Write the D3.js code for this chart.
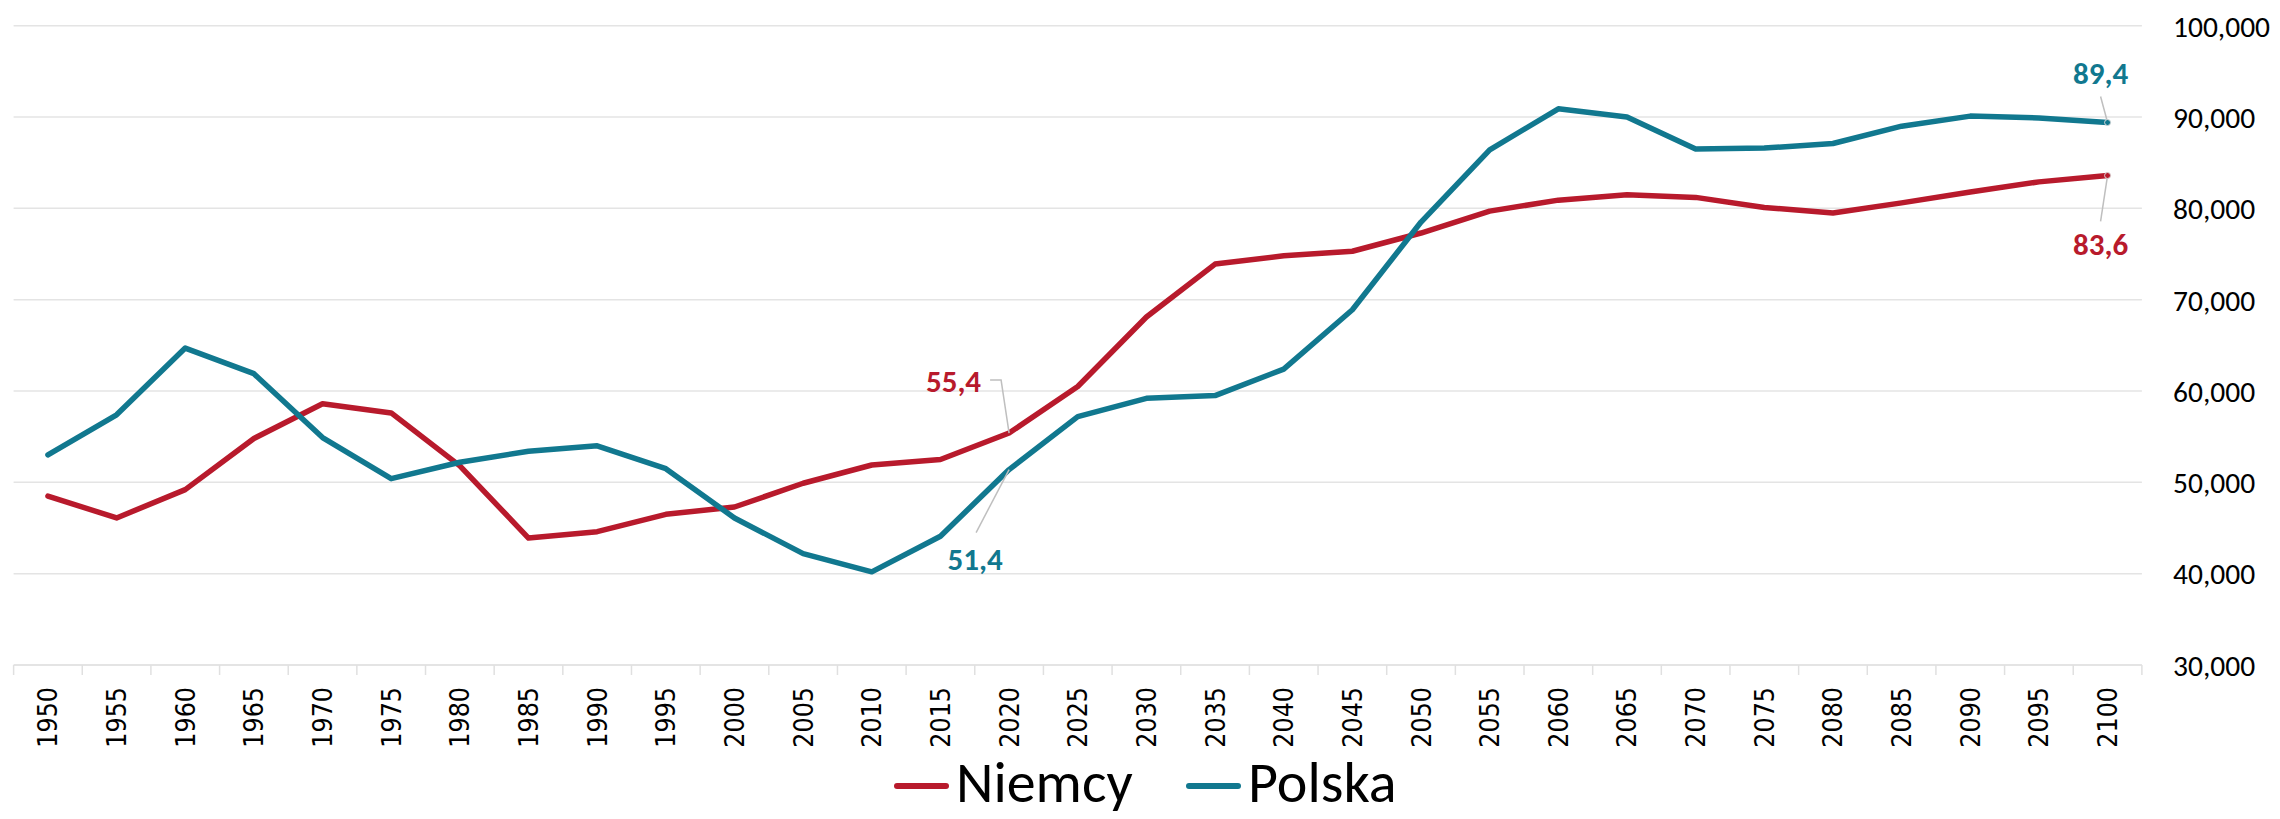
<!DOCTYPE html>
<html>
<head>
<meta charset="utf-8">
<script src="https://cdn.jsdelivr.net/npm/d3@7"></script>
<style>
  html, body { margin: 0; padding: 0; background: #fff; }
  svg { display: block; }
  .calibri { font-family: Carlito, Lato, sans-serif; }
</style>
</head>
<body>
<div id="chart"></div>
<script>
// data
const years = [1950, 1955, 1960, 1965, 1970, 1975, 1980, 1985, 1990, 1995, 2000,
  2005, 2010, 2015, 2020, 2025, 2030, 2035, 2040, 2045, 2050, 2055, 2060, 2065,
  2070, 2075, 2080, 2085, 2090, 2095, 2100];
const niemcy = [48500, 46100, 49200, 54800, 58600, 57600, 51800, 43900, 44600, 46500, 47300,
  49900, 51900, 52500, 55400, 60500, 68100, 73900, 74800, 75300, 77300, 79700, 80900, 81500,
  81200, 80100, 79500, 80600, 81800, 82900, 83600];
const polska = [53000, 57400, 64700, 61900, 54900, 50400, 52200, 53400, 54000, 51500, 46100,
  42200, 40200, 44100, 51400, 57200, 59200, 59500, 62400, 68900, 78500, 86400, 90900, 90000,
  86500, 86600, 87100, 89000, 90100, 89900, 89400];
const yTicks = [30000, 40000, 50000, 60000, 70000, 80000, 90000, 100000];
const seriesNames = ['Niemcy', 'Polska'];
const labelled = [
  { series: 'Niemcy', year: 2020 },
  { series: 'Polska', year: 2020 },
  { series: 'Polska', year: 2100 },
  { series: 'Niemcy', year: 2100 },
];

const width = 2280;
const height = 819;
const plot = { left: 13.6, right: 2141.9, top: 25.7, bottom: 665 };
const colors = { Niemcy: '#b81a2c', Polska: '#11788f' };
const values = { Niemcy: niemcy, Polska: polska };

// label placement relative to the point (style, not data)
const labelLayout = {
  'Niemcy-2020': { dx: -28, dy: -41, anchor: 'end', leader: [[-19, -53], [-8, -53], [0, 0]] },
  'Polska-2020': { dx: -34, dy: 100, anchor: 'middle', leader: [[-33, 63], [0, 0]] },
  'Polska-2100': { dx: -7, dy: -39, anchor: 'middle', leader: [[-7, -26], [0, 0]] },
  'Niemcy-2100': { dx: -7, dy: 80, anchor: 'middle', leader: [[-7, 46], [0, 0]] },
};

const svg = d3.select('#chart')
  .append('svg')
  .attr('width', width)
  .attr('height', height)
  .attr('viewBox', `0 0 ${width} ${height}`);

const x = d3.scaleBand()
  .domain(years)
  .range([plot.left, plot.right])
  .padding(0);
const y = d3.scaleLinear()
  .domain([30000, 100000])
  .range([plot.bottom, plot.top]);
const cx = (yr) => x(yr) + x.bandwidth() / 2;

// gridlines
svg.append('g')
  .selectAll('line')
  .data(yTicks)
  .join('line')
  .attr('x1', plot.left)
  .attr('x2', plot.right)
  .attr('y1', (d) => y(d))
  .attr('y2', (d) => y(d))
  .attr('stroke', '#e4e4e4')
  .attr('stroke-width', (d) => (d === 30000 ? 2 : 1.5));

// category tick marks at band edges
svg.append('g')
  .selectAll('line')
  .data(years.map((d) => x(d)).concat([plot.right]))
  .join('line')
  .attr('x1', (d) => d)
  .attr('x2', (d) => d)
  .attr('y1', plot.bottom)
  .attr('y2', plot.bottom + 10)
  .attr('stroke', '#e0e0e0')
  .attr('stroke-width', 1.5);

// x axis labels (rotated)
const xAxis = svg.append('g')
  .attr('transform', `translate(0,${plot.bottom})`)
  .call(d3.axisBottom(x).tickSize(0).tickPadding(0));
xAxis.select('.domain').remove();
xAxis.selectAll('.tick text')
  .attr('font-family', "'DejaVu Sans Condensed', 'DejaVu Sans', sans-serif")
  .attr('font-stretch', 'condensed')
  .attr('font-size', 26.5)
  .attr('fill', '#000')
  .attr('text-anchor', 'end')
  .attr('dominant-baseline', 'central')
  .attr('dy', null)
  .attr('y', 0)
  .attr('transform', 'translate(0,22) rotate(-90)');

// y axis labels on the right
const yAxis = svg.append('g')
  .attr('transform', `translate(2173,0)`)
  .call(d3.axisRight(y).tickValues(yTicks).tickSize(0).tickPadding(0).tickFormat(d3.format(',')));
yAxis.select('.domain').remove();
yAxis.selectAll('.tick text')
  .attr('class', 'calibri')
  .attr('font-size', 29.5)
  .attr('fill', '#000')
  .attr('dy', '0.35em');

// series lines
const line = d3.line()
  .x((d, i) => cx(years[i]))
  .y((d) => y(d));

seriesNames.forEach((name) => {
  svg.append('path')
    .datum(values[name])
    .attr('d', line)
    .attr('fill', 'none')
    .attr('stroke', colors[name])
    .attr('stroke-width', 5.5)
    .attr('stroke-linejoin', 'round')
    .attr('stroke-linecap', 'round');
});

// data labels with leader lines
const ann = svg.append('g');
labelled.forEach((a) => {
  const i = years.indexOf(a.year);
  const px = cx(a.year);
  const py = y(values[a.series][i]);
  const lay = labelLayout[`${a.series}-${a.year}`];
  ann.append('path')
    .attr('d', d3.line()(lay.leader.map(([dx, dy]) => [px + dx, py + dy])))
    .attr('fill', 'none')
    .attr('stroke', '#bfbfbf')
    .attr('stroke-width', 1.5);
  if (a.year === 2100) {
    ann.append('circle')
      .attr('cx', px)
      .attr('cy', py)
      .attr('r', 3)
      .attr('fill', colors[a.series])
      .attr('stroke', '#d9d9d9')
      .attr('stroke-width', 1);
  }
  ann.append('text')
    .attr('class', 'calibri')
    .attr('x', px + lay.dx)
    .attr('y', py + lay.dy)
    .attr('text-anchor', lay.anchor)
    .attr('font-size', 31)
    .attr('font-weight', 'bold')
    .attr('fill', colors[a.series])
    .text((values[a.series][i] / 1000).toFixed(1).replace('.', ','));
});

// legend
const legendPos = { Niemcy: 894, Polska: 1186 };
const legend = svg.append('g');
seriesNames.forEach((name) => {
  const lx = legendPos[name];
  legend.append('line')
    .attr('x1', lx + 3)
    .attr('x2', lx + 52)
    .attr('y1', 786)
    .attr('y2', 786)
    .attr('stroke', colors[name])
    .attr('stroke-width', 6)
    .attr('stroke-linecap', 'round');
  legend.append('text')
    .attr('class', 'calibri')
    .attr('x', lx + 62)
    .attr('y', 802)
    .attr('font-size', 58)
    .attr('fill', '#000')
    .text(name);
});
</script>
</body>
</html>
